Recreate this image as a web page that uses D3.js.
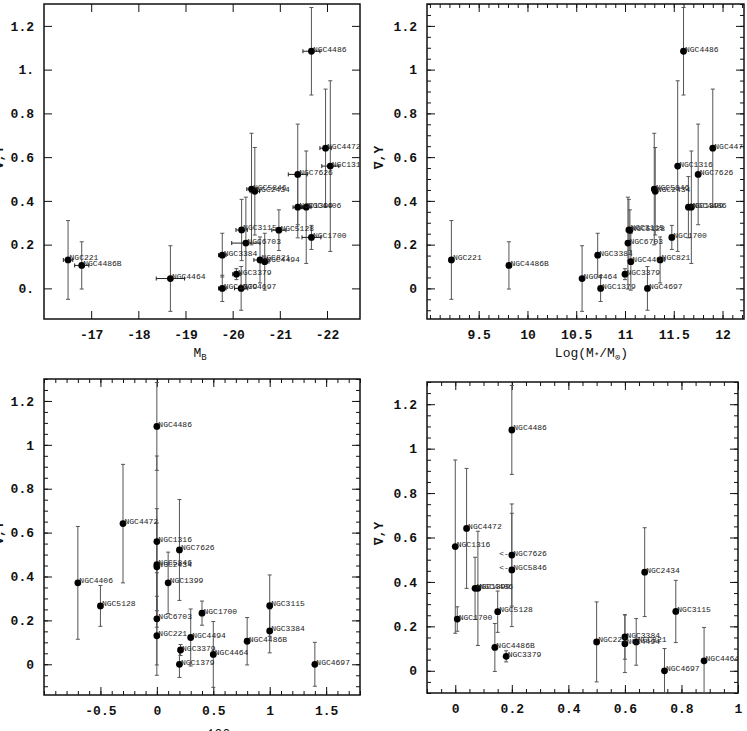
<!DOCTYPE html>
<html>
<head>
<meta charset="utf-8">
<script src="https://cdn.jsdelivr.net/npm/d3@7"></script>
<style>
    body { margin: 0; background: #fff; }
    svg { display: block; }
    .tick text { font-family: "Liberation Mono", "DejaVu Sans Mono", monospace; font-weight: bold; font-size: 13px; fill: #111; }
    .tick line { stroke: #111; }
    .pt-label { font-family: "Liberation Mono", "DejaVu Sans Mono", monospace; font-size: 8px; fill: #222; }
    .ax-label { font-family: "Liberation Mono", "DejaVu Sans Mono", monospace; font-size: 13px; fill: #111; }
</style>
</head>
<body>
<svg id="chart" width="747" height="731"></svg>
<script>
// galaxies and their measured gradients
const galaxies = ["NGC221", "NGC4486B", "NGC4464", "NGC3384", "NGC1379", "NGC4697", "NGC3379",
    "NGC3115", "NGC6703", "NGC5128", "NGC821", "NGC4494", "NGC5846", "NGC2434", "NGC1399",
    "NGC4406", "NGC1700", "NGC7626", "NGC1316", "NGC4472", "NGC4486"];
const gradY = [0.13, 0.105, 0.045, 0.152, 0.0, 0.0, 0.065, 0.267, 0.207, 0.266, 0.13, 0.122,
    0.454, 0.444, 0.371, 0.371, 0.233, 0.521, 0.559, 0.641, 1.084];
const gradYErr = [0.18, 0.108, 0.15, 0.1, 0.06, 0.1, 0.025, 0.14, 0.21, 0.093, 0.105, 0.13,
    0.255, 0.2, 0.14, 0.257, 0.055, 0.23, 0.39, 0.27, 0.2];

// x quantities (null = not plotted in that panel)
const mB = [-16.51, -16.80, -18.68, -19.78, -19.78, -20.18, -20.08, -20.19, -20.28, -20.98, -20.58,
    -20.68, -20.40, -20.47, -21.38, -21.56, -21.67, -21.38, -22.07, -21.97, -21.67];
const mBErr = [0.1, 0.15, 0.3, 0.08, 0.08, 0.14, 0.08, 0.12, 0.3, 0.15, 0.13, 0.09, 0.1, 0.1,
    0.1, 0.1, 0.2, 0.2, 0.18, 0.12, 0.18];
const logMstar = [9.22, 9.81, 10.56, 10.72, 10.75, 11.23, 11.0, 11.04, 11.03, 11.05, 11.36, 11.06,
    11.30, 11.31, 11.65, 11.68, 11.48, 11.75, 11.54, 11.90, 11.60];
const a4 = [0, 0.8, 0.5, 1.0, 0.2, 1.4, 0.21, 1.0, 0, -0.5, null, 0.3, 0, 0, 0.1, -0.7, 0.4, 0.2,
    0, -0.3, 0];
const chi = [0.5, 0.14, 0.88, 0.6, null, 0.74, 0.18, 0.78, null, 0.15, 0.64, 0.6, 0.2, 0.67, 0.07,
    0.08, 0.007, 0.2, 0.0, 0.04, 0.2];
const chiUpperLimits = ["NGC7626", "NGC5846"];

// tick values and labels
const yTicks = [0, 0.2, 0.4, 0.6, 0.8, 1, 1.2];
const yTickLabelsA = ["0.", "0.2", "0.4", "0.6", "0.8", "1.", "1.2"];
const yTickLabelsB = ["0", "0.2", "0.4", "0.6", "0.8", "1", "1.2"];
const mBTicks = [-17, -18, -19, -20, -21, -22];
const mBTickLabels = ["-17", "-18", "-19", "-20", "-21", "-22"];
const logMTicks = [9.5, 10, 10.5, 11, 11.5, 12];
const logMTickLabels = ["9.5", "10", "10.5", "11", "11.5", "12"];
const a4Ticks = [-0.5, 0, 0.5, 1, 1.5];
const a4TickLabels = ["-0.5", "0", "0.5", "1", "1.5"];
const chiTicks = [0, 0.2, 0.4, 0.6, 0.8, 1];
const chiTickLabels = ["0", "0.2", "0.4", "0.6", "0.8", "1"];

const svg = d3.select("#chart");
const defs = svg.append("defs");

const panels = [
    { id: "p1", box: [44, 4, 360, 319], xDomain: [-16, -22.7], yDomain: [-0.14, 1.3],
      x: mB, xErr: mBErr, xTicks: mBTicks, xLabels: mBTickLabels, yLabels: yTickLabelsA,
      xMinor: null, yMinor: null, xTitle: "mb", yTitleX: 3, xTitleY: 357 },
    { id: "p2", box: [427, 4, 744, 319], xDomain: [8.97, 12.22], yDomain: [-0.14, 1.3],
      x: logMstar, xErr: null, xTicks: logMTicks, xLabels: logMTickLabels, yLabels: yTickLabelsB,
      xMinor: 0.1, yMinor: 0.05, xTitle: "logm", yTitleX: 383, xTitleY: 357 },
    { id: "p3", box: [44, 379, 360, 695], xDomain: [-1, 1.8], yDomain: [-0.14, 1.3],
      x: a4, xErr: null, xTicks: a4Ticks, xLabels: a4TickLabels, yLabels: yTickLabelsB,
      xMinor: 0.1, yMinor: 0.05, xTitle: "a4", yTitleX: 3, xTitleY: 738 },
    { id: "p4", box: [427, 382, 738, 693], xDomain: [-0.1, 1.0], yDomain: [-0.1, 1.3],
      x: chi, xErr: null, xTicks: chiTicks, xLabels: chiTickLabels, yLabels: yTickLabelsB,
      xMinor: 0.05, yMinor: 0.05, xTitle: "chi", yTitleX: 383, xTitleY: 738 }
];

const minorValues = (domain, step) => {
    const lo = Math.min(...domain), hi = Math.max(...domain);
    return d3.range(Math.ceil(lo / step - 1e-6) * step, hi + 1e-9, step)
        .map(v => +v.toFixed(4));
};

panels.forEach(p => {
    const [x0, y0, x1, y1] = p.box;
    const xScale = d3.scaleLinear().domain(p.xDomain).range([x0, x1]);
    const yScale = d3.scaleLinear().domain(p.yDomain).range([y1, y0]);
    const g = svg.append("g");

    // minor ticks on all four sides
    if (p.xMinor) {
        const xm = minorValues(p.xDomain, p.xMinor);
        g.append("g").attr("transform", `translate(0,${ y1 })`)
            .call(d3.axisBottom(xScale).tickValues(xm).tickSize(-4).tickSizeOuter(0).tickFormat(""));
        g.append("g").attr("transform", `translate(0,${ y0 })`)
            .call(d3.axisTop(xScale).tickValues(xm).tickSize(-4).tickSizeOuter(0).tickFormat(""));
    }
    if (p.yMinor) {
        const ym = minorValues(p.yDomain, p.yMinor);
        g.append("g").attr("transform", `translate(${ x0 },0)`)
            .call(d3.axisLeft(yScale).tickValues(ym).tickSize(-4).tickSizeOuter(0).tickFormat(""));
        g.append("g").attr("transform", `translate(${ x1 },0)`)
            .call(d3.axisRight(yScale).tickValues(ym).tickSize(-4).tickSizeOuter(0).tickFormat(""));
    }

    // major ticks
    g.append("g").attr("transform", `translate(0,${ y1 })`)
        .call(d3.axisBottom(xScale).tickValues(p.xTicks).tickSize(-8).tickSizeOuter(0)
            .tickPadding(11).tickFormat((d, i) => p.xLabels[i]));
    g.append("g").attr("transform", `translate(0,${ y0 })`)
        .call(d3.axisTop(xScale).tickValues(p.xTicks).tickSize(-8).tickSizeOuter(0).tickFormat(""));
    g.append("g").attr("transform", `translate(${ x0 },0)`)
        .call(d3.axisLeft(yScale).tickValues(yTicks).tickSize(-8).tickSizeOuter(0)
            .tickPadding(10).tickFormat((d, i) => p.yLabels[i]));
    g.append("g").attr("transform", `translate(${ x1 },0)`)
        .call(d3.axisRight(yScale).tickValues(yTicks).tickSize(-8).tickSizeOuter(0).tickFormat(""));

    g.selectAll(".domain").remove();
    g.selectAll(".tick text").attr("font-family", null).attr("font-size", null);

    // frame
    g.append("rect")
        .attr("x", x0).attr("y", y0)
        .attr("width", x1 - x0).attr("height", y1 - y0)
        .attr("fill", "none").attr("stroke", "#111").attr("stroke-width", 1.5);

    // clip for data
    defs.append("clipPath").attr("id", `clip-${ p.id }`)
        .append("rect").attr("x", x0).attr("y", y0).attr("width", x1 - x0).attr("height", y1 - y0);

    const rows = galaxies.map((name, i) => ({
        name, x: p.x[i], y: gradY[i], yErr: gradYErr[i], xErr: p.xErr ? p.xErr[i] : null
    })).filter(d => d.x !== null);

    const data = g.append("g").attr("clip-path", `url(#clip-${ p.id })`);
    const cap = 2;

    // vertical error bars
    const eb = data.append("g").attr("stroke", "#555").attr("stroke-width", 1);
    rows.forEach(d => {
        const cx = xScale(d.x);
        const top = yScale(d.y + d.yErr), bot = yScale(d.y - d.yErr);
        eb.append("line").attr("x1", cx).attr("x2", cx).attr("y1", top).attr("y2", bot);
        eb.append("line").attr("x1", cx - cap).attr("x2", cx + cap).attr("y1", top).attr("y2", top);
        eb.append("line").attr("x1", cx - cap).attr("x2", cx + cap).attr("y1", bot).attr("y2", bot);
        if (d.xErr) {
            const cy = yScale(d.y);
            const l = xScale(d.x - d.xErr), r = xScale(d.x + d.xErr);
            eb.append("line").attr("x1", l).attr("x2", r).attr("y1", cy).attr("y2", cy)
                .attr("stroke", "#222");
            eb.append("line").attr("x1", l).attr("x2", l).attr("y1", cy - cap).attr("y2", cy + cap)
                .attr("stroke", "#222");
            eb.append("line").attr("x1", r).attr("x2", r).attr("y1", cy - cap).attr("y2", cy + cap)
                .attr("stroke", "#222");
        }
    });

    // points
    data.selectAll("circle")
        .data(rows)
        .join("circle")
        .attr("cx", d => xScale(d.x))
        .attr("cy", d => yScale(d.y))
        .attr("r", 3.4)
        .attr("fill", "#000");

    // labels, drawn over the points with the first letter partly on the dot
    data.selectAll("text.pt-label")
        .data(rows)
        .join("text")
        .attr("class", "pt-label")
        .attr("x", d => xScale(d.x) + 1.5)
        .attr("y", d => yScale(d.y) + 0.5)
        .text(d => d.name);

    if (p.id === "p4") {
        data.selectAll("text.limit")
            .data(rows.filter(d => chiUpperLimits.includes(d.name)))
            .join("text")
            .attr("class", "pt-label limit")
            .attr("text-anchor", "end")
            .attr("x", d => xScale(d.x) - 3)
            .attr("y", d => yScale(d.y) + 0.5)
            .text("<-");
    }

    // y title
    const yMid = (y0 + y1) / 2;
    svg.append("text")
        .attr("class", "ax-label")
        .attr("text-anchor", "middle")
        .attr("font-family", "DejaVu Serif, serif")
        .attr("font-size", 14)
        .attr("font-weight", "bold")
        .attr("transform", `translate(${ p.yTitleX },${ yMid - 4 }) rotate(-90)`)
        .text("∇,Υ");

    // x title
    const t = svg.append("text")
        .attr("class", "ax-label")
        .attr("text-anchor", "middle")
        .attr("x", (x0 + x1) / 2 + (p.id === "p1" ? -2 : 6))
        .attr("y", p.xTitleY);
    if (p.xTitle === "mb") {
        t.append("tspan").text("M");
        t.append("tspan").attr("font-size", 9).attr("dy", 3).text("B");
    } else if (p.xTitle === "logm") {
        t.append("tspan").text("Log(M");
        t.append("tspan").attr("font-size", 9).attr("dy", 2).text("*");
        t.append("tspan").attr("dy", -2).text("/M");
        t.append("tspan").attr("font-size", 9).attr("dy", 3).text("⊙");
        t.append("tspan").attr("dy", -3).text(")");
    } else if (p.xTitle === "a4") {
        t.append("tspan").text("a");
        t.append("tspan").attr("font-size", 9).attr("dy", 3).text("4");
        t.append("tspan").attr("dy", -3).text("x100");
    } else {
        t.append("tspan").text("χ");
    }
});
</script>
</body>
</html>
